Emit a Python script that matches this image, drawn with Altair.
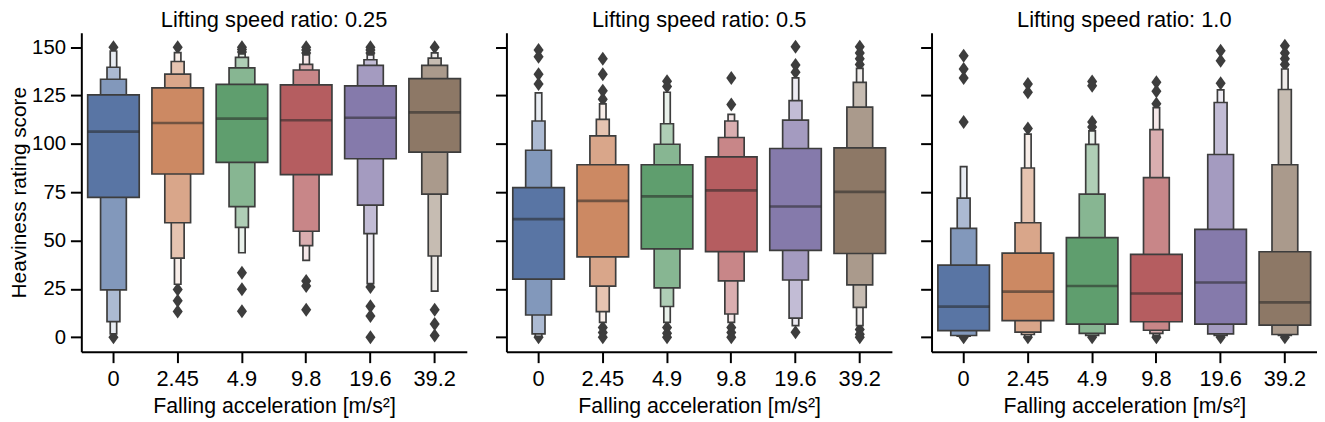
import altair as alt
import pandas as pd

FONT = "Liberation Sans"
EDGE = "#3d3d3d"

categories = ["0", "2.45", "4.9", "9.8", "19.6", "39.2"]
ratios = ["0.25", "0.5", "1.0"]
base_colors = ["#5975a4", "#cc8963", "#5f9e6e", "#b55d60", "#857aab", "#8d7866"]
level_whiten = [0.0, 0.25, 0.5, 0.86]
level_widths = [52, 26, 13, 6.5]

# ---- Lifting speed ratio 0.25 ----
r025_l1_lo = [72.3, 84.4, 90.4, 84.1, 92.3, 95.7]
r025_l1_hi = [125.3, 128.9, 130.8, 130.5, 130.0, 133.7]
r025_median = [106.3, 110.8, 113.0, 112.2, 113.5, 116.3]
r025_l2_lo = [24.5, 59.2, 67.5, 54.8, 68.3, 74.0]
r025_l2_hi = [133.4, 136.1, 139.3, 138.2, 140.6, 140.6]
r025_l3_lo = [8.1, 40.9, 56.8, 47.4, 53.6, 42.0]
r025_l3_hi = [139.6, 142.6, 144.7, 141.1, 143.5, 144.3]
r025_l4_lo = [1.7, 27.4, 43.7, 39.7, 27.7, 23.8]
r025_l4_hi = [148.0, 147.2, 146.5, 146.0, 146.0, 147.0]
r025_outliers = [
    [150, 0],
    [150, 24.7, 18.9, 13.3],
    [150, 148.8, 147.5, 33.4, 24.8, 13.4],
    [150, 148.5, 147, 29.1, 26.5, 14.2],
    [150, 148.5, 147, 26, 16, 11, 0],
    [150, 14.2, 6.8, 0.9],
]

# ---- Lifting speed ratio 0.5 ----
r05_l1_lo = [30.0, 41.6, 45.7, 44.3, 44.9, 43.3]
r05_l1_hi = [77.4, 89.2, 89.2, 93.3, 97.6, 97.9]
r05_median = [61.1, 70.5, 72.8, 75.9, 67.6, 75.2]
r05_l2_lo = [11.5, 26.4, 25.5, 29.1, 29.6, 27.1]
r05_l2_hi = [96.7, 104.1, 99.8, 103.3, 112.3, 119.0]
r05_l3_lo = [1.7, 13.2, 15.9, 12.0, 9.9, 15.4]
r05_l3_hi = [111.8, 112.7, 110.4, 111.8, 122.4, 131.8]
r05_l4_lo = [0.5, 7.7, 7.7, 7.7, 6.0, 6.0]
r05_l4_hi = [126.4, 120.7, 126.7, 115.2, 134.1, 139.0]
r05_outliers = [
    [148.5, 145, 136, 131, 0],
    [144, 136, 127.5, 123, 5, 2.5, 0],
    [132.4, 129.6, 5, 2, 0],
    [134.1, 120.4, 5, 2.5, 0],
    [150.2, 140.8, 137, 2.6],
    [150.2, 147, 144, 141, 4, 1.5, 0],
]

# ---- Lifting speed ratio 1.0 ----
r10_l1_lo = [3.4, 8.6, 6.8, 8.0, 6.8, 6.3]
r10_l1_hi = [37.3, 43.5, 51.5, 42.8, 55.8, 44.2]
r10_median = [15.8, 23.6, 26.5, 22.6, 28.3, 18.0]
r10_l2_lo = [0.9, 2.6, 2.0, 3.6, 1.7, 1.4]
r10_l2_hi = [56.3, 59.2, 74.0, 82.5, 94.5, 89.2]
r10_l3_lo = [0.5, 1.4, 1.0, 2.0, 1.0, 1.0]
r10_l3_hi = [71.9, 87.5, 99.7, 107.4, 121.4, 128.1]
r10_l4_lo = [0.2, 0.5, 0.5, 1.0, 0.5, 0.5]
r10_l4_hi = [88.2, 105.0, 106.7, 118.7, 127.9, 138.7]
r10_outliers = [
    [145.5, 138.7, 134.1, 111.3, 0],
    [131, 126.7, 107.9, 0],
    [132.2, 130.1, 111.3, 108.7, 0],
    [131.8, 127.2, 120.7, 0],
    [148.1, 143, 131.3, 0],
    [150.7, 147, 144, 141, 0],
]

panel_data = {
    "0.25": ([(r025_l1_lo, r025_l1_hi), (r025_l2_lo, r025_l2_hi),
              (r025_l3_lo, r025_l3_hi), (r025_l4_lo, r025_l4_hi)],
             r025_median, r025_outliers),
    "0.5": ([(r05_l1_lo, r05_l1_hi), (r05_l2_lo, r05_l2_hi),
             (r05_l3_lo, r05_l3_hi), (r05_l4_lo, r05_l4_hi)],
            r05_median, r05_outliers),
    "1.0": ([(r10_l1_lo, r10_l1_hi), (r10_l2_lo, r10_l2_hi),
             (r10_l3_lo, r10_l3_hi), (r10_l4_lo, r10_l4_hi)],
            r10_median, r10_outliers),
}


def mix(hex_color, f):
    rgb = [int(hex_color[i:i + 2], 16) for i in (1, 3, 5)]
    return "#%02x%02x%02x" % tuple(round(c + (255 - c) * f) for c in rgb)


DIAMOND = "M0,-1L0.72,0L0,1L-0.72,0Z"
y_scale = alt.Scale(domain=[-7.5, 157.5], nice=False, zero=False)
x_scale = alt.Scale(paddingInner=0, paddingOuter=0)


def make_panel(ratio, first):
    levels, median, outliers = panel_data[ratio]
    y_axis = alt.Axis(values=[0, 25, 50, 75, 100, 125, 150],
                      title="Heaviness rating score" if first else None,
                      labels=first)
    x_enc = alt.X("cat:N", sort=categories, scale=x_scale,
                  axis=alt.Axis(title="Falling acceleration [m/s\u00b2]", labelAngle=0))

    out_rows = [dict(cat=c, value=v) for c, vals in zip(categories, outliers) for v in vals]
    layers = [
        alt.Chart(pd.DataFrame(out_rows)).mark_point(
            shape=DIAMOND, filled=True, size=200, color=EDGE, opacity=1, strokeWidth=0
        ).encode(x=x_enc, y=alt.Y("value:Q", scale=y_scale, axis=y_axis))
    ]
    for lev in [3, 2, 1, 0]:
        lo, hi = levels[lev]
        rows = [dict(cat=c, lo=lo[i], hi=hi[i], fill=mix(base_colors[i], level_whiten[lev]))
                for i, c in enumerate(categories)]
        layers.append(
            alt.Chart(pd.DataFrame(rows)).mark_bar(
                size=level_widths[lev], stroke=EDGE, strokeWidth=1.7
            ).encode(
                x=x_enc,
                y=alt.Y("lo:Q", scale=y_scale, axis=y_axis),
                y2="hi:Q",
                fill=alt.Fill("fill:N", scale=None),
            )
        )
    med_rows = [dict(cat=c, med=m) for c, m in zip(categories, median)]
    layers.append(
        alt.Chart(pd.DataFrame(med_rows)).mark_tick(
            size=52, thickness=2.7, color="#262626", opacity=0.55
        ).encode(x=x_enc, y=alt.Y("med:Q", scale=y_scale, axis=y_axis))
    )
    return alt.layer(*layers).properties(
        width=389, height=322,
        title=alt.TitleParams(
            text=f"Lifting speed ratio: {ratio}", frame="group", anchor="middle",
            font=FONT, fontSize=22, fontWeight="normal", color="black", offset=1,
        ),
    )


chart = alt.hconcat(
    *[make_panel(r, i == 0) for i, r in enumerate(ratios)], spacing=28
).properties(
    padding={"left": 0, "top": -1, "right": 0, "bottom": 0}
).configure_view(
    stroke=None
).configure_axis(
    grid=False, domainColor="black", domainWidth=2, tickColor="black", tickWidth=2,
    tickSize=11, labelFont=FONT, labelFontSize=20.5, labelColor="black",
    titleFont=FONT, titleFontSize=21.5, titleColor="black", titleFontWeight="normal",
).configure_axisX(
    labelPadding=6, titlePadding=6, labelFontSize=22
).configure_axisY(
    labelPadding=5, titlePadding=2, titleFontSize=21
)

chart.save("out.html", embed_options={"renderer": "svg", "actions": False})
